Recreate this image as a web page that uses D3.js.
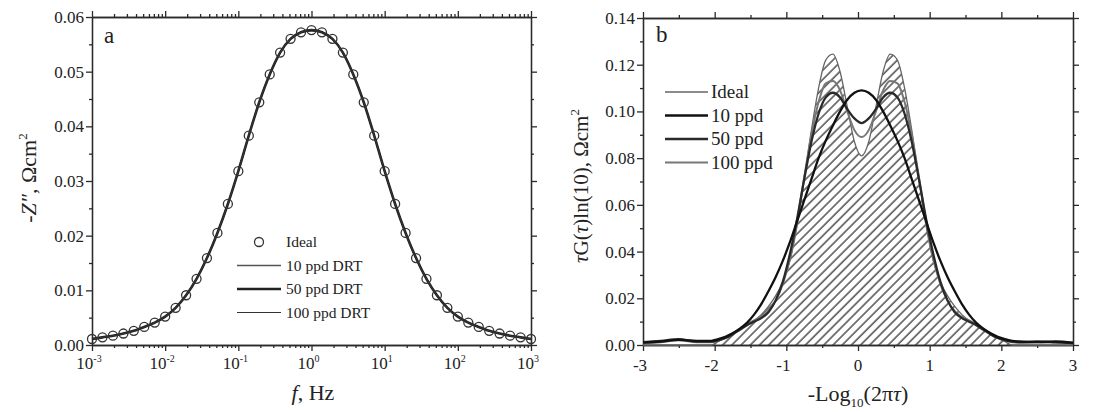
<!DOCTYPE html>
<html>
<head>
<meta charset="utf-8">
<script src="https://cdn.jsdelivr.net/npm/d3@7"></script>
<style>
  body { margin: 0; background: #fff; }
  text { font-family: "Liberation Serif", "Times New Roman", serif; fill: #222; }
</style>
</head>
<body>
<script>
// ---- panel a : -Z'' vs f ----
var logF = [-3, -2.857, -2.714, -2.571, -2.429, -2.286, -2.143, -2, -1.857, -1.714, -1.571,
    -1.429, -1.286, -1.143, -1, -0.857, -0.714, -0.571, -0.429, -0.286, -0.143, 0,
    0.143, 0.286, 0.429, 0.571, 0.714, 0.857, 1, 1.143, 1.286, 1.429, 1.571, 1.714,
    1.857, 2, 2.143, 2.286, 2.429, 2.571, 2.714, 2.857, 3];
var zIdeal = [0.0011, 0.0014, 0.0017, 0.0021, 0.0026, 0.0033, 0.0041, 0.0052, 0.0068, 0.0091, 0.0121,
    0.0159, 0.0205, 0.0258, 0.0318, 0.0383, 0.0444, 0.0495, 0.0535, 0.0560, 0.0572, 0.0576,
    0.0572, 0.0560, 0.0535, 0.0495, 0.0444, 0.0383, 0.0318, 0.0258, 0.0205, 0.0159, 0.0121, 0.0091,
    0.0068, 0.0052, 0.0041, 0.0033, 0.0026, 0.0021, 0.0017, 0.0014, 0.0011];
var z10 = [0.0011, 0.0014, 0.0017, 0.0021, 0.0026, 0.0033, 0.0041, 0.0052, 0.0068, 0.0091, 0.0121,
    0.0159, 0.0205, 0.0258, 0.0318, 0.0383, 0.0444, 0.0495, 0.0535, 0.0560, 0.0572, 0.0575,
    0.0572, 0.0560, 0.0535, 0.0495, 0.0444, 0.0383, 0.0318, 0.0258, 0.0205, 0.0159, 0.0121, 0.0091,
    0.0068, 0.0052, 0.0041, 0.0033, 0.0026, 0.0021, 0.0017, 0.0014, 0.0011];
var z50 = [0.0011, 0.0014, 0.0017, 0.0021, 0.0026, 0.0033, 0.0041, 0.0052, 0.0068, 0.0091, 0.0121,
    0.0159, 0.0205, 0.0258, 0.0318, 0.0383, 0.0444, 0.0495, 0.0535, 0.0560, 0.0572, 0.0576,
    0.0572, 0.0560, 0.0535, 0.0495, 0.0444, 0.0383, 0.0318, 0.0258, 0.0205, 0.0159, 0.0121, 0.0091,
    0.0068, 0.0052, 0.0041, 0.0033, 0.0026, 0.0021, 0.0017, 0.0014, 0.0011];
var z100 = [0.0011, 0.0014, 0.0017, 0.0021, 0.0026, 0.0033, 0.0041, 0.0052, 0.0068, 0.0091, 0.0121,
    0.0159, 0.0205, 0.0258, 0.0318, 0.0383, 0.0444, 0.0495, 0.0535, 0.0560, 0.0572, 0.0577,
    0.0572, 0.0560, 0.0535, 0.0495, 0.0444, 0.0383, 0.0318, 0.0258, 0.0205, 0.0159, 0.0121, 0.0091,
    0.0068, 0.0052, 0.0041, 0.0033, 0.0026, 0.0021, 0.0017, 0.0014, 0.0011];
var legendA = ["Ideal", "10 ppd DRT", "50 ppd DRT", "100 ppd DRT"];
var yTicksA = [0, 0.01, 0.02, 0.03, 0.04, 0.05, 0.06];
var xDecadesA = [-3, -2, -1, 0, 1, 2, 3];

// ---- panel b : DRT ----
var logT = [-3, -2.75, -2.5, -2.25, -2.05, -1.95, -1.85, -1.75, -1.65, -1.55, -1.45, -1.35, -1.25,
    -1.15, -1.05, -0.95, -0.85, -0.75, -0.65, -0.55, -0.45, -0.35, -0.25, -0.15, -0.05, 0.05,
    0.15, 0.25, 0.35, 0.45, 0.55, 0.65, 0.75, 0.85, 0.95, 1.05, 1.15, 1.25, 1.35, 1.45, 1.55,
    1.65, 1.75, 1.85, 1.95, 2.05, 2.15, 2.25, 2.5, 2.75, 3];
var gIdeal = [0, 0, 0, 0,
    0, 0.0015, 0.0032, 0.005, 0.0068, 0.0085, 0.0105, 0.013, 0.0165, 0.021, 0.027, 0.036, 0.051,
    0.071, 0.092, 0.110, 0.122, 0.1245, 0.117, 0.102, 0.087, 0.081,
    0.087, 0.102, 0.117, 0.1245, 0.122, 0.110, 0.092, 0.071, 0.051, 0.036, 0.027, 0.021, 0.0165,
    0.013, 0.0105, 0.0085, 0.0068, 0.005, 0.0032, 0.0015, 0,
    0, 0, 0, 0];
var g10 = [0.001, 0.0015, 0.0022, 0.0018,
    0.0018, 0.0025, 0.0035, 0.005, 0.007, 0.0095, 0.013, 0.0175, 0.023, 0.029, 0.036, 0.044, 0.053,
    0.062, 0.071, 0.080, 0.0875, 0.094, 0.100, 0.105, 0.108, 0.109,
    0.108, 0.105, 0.100, 0.094, 0.0875, 0.080, 0.071, 0.062, 0.053, 0.044, 0.036, 0.029, 0.023,
    0.0175, 0.013, 0.0095, 0.007, 0.005, 0.0035, 0.0025, 0.0018,
    0.0015, 0.0012, 0.0015, 0.001];
var g50 = [0.0012, 0.0018, 0.0025, 0.0015,
    0.0015, 0.002, 0.003, 0.0045, 0.0065, 0.0085, 0.010, 0.0115, 0.014, 0.019, 0.027, 0.039, 0.054,
    0.071, 0.087, 0.099, 0.106, 0.108, 0.106, 0.101, 0.097, 0.095,
    0.097, 0.101, 0.106, 0.108, 0.106, 0.099, 0.087, 0.071, 0.054, 0.039, 0.027, 0.019, 0.014,
    0.0115, 0.010, 0.0085, 0.0065, 0.0045, 0.003, 0.002, 0.0015,
    0.0012, 0.0015, 0.0012, 0.0008];
var g100 = [0.0008, 0.0012, 0.002, 0.0012,
    0.0012, 0.0018, 0.003, 0.0048, 0.0068, 0.0088, 0.0105, 0.012, 0.0145, 0.019, 0.026, 0.037, 0.053,
    0.072, 0.090, 0.104, 0.112, 0.113, 0.109, 0.100, 0.092, 0.089,
    0.092, 0.100, 0.109, 0.113, 0.112, 0.104, 0.090, 0.072, 0.053, 0.037, 0.026, 0.019, 0.0145,
    0.012, 0.0105, 0.0088, 0.0068, 0.0048, 0.003, 0.0018, 0.0012,
    0.001, 0.0012, 0.001, 0.0008];
var legendB = ["Ideal", "10 ppd", "50 ppd", "100 ppd"];
var yTicksB = [0, 0.02, 0.04, 0.06, 0.08, 0.10, 0.12, 0.14];
var xTicksB = [-3, -2, -1, 0, 1, 2, 3];

var ink = "#2a2a2a";
var svg = d3.select("body").append("svg")
    .attr("width", 1093)
    .attr("height", 412);

svg.append("rect").attr("width", 1093).attr("height", 412).attr("fill", "#fff");

// hatch for the ideal DRT area
svg.append("defs").append("pattern")
    .attr("id", "hatch")
    .attr("patternUnits", "userSpaceOnUse")
    .attr("width", 6.5)
    .attr("height", 6.5)
    .attr("patternTransform", "rotate(45)")
    .append("line")
    .attr("x1", 1).attr("y1", 0)
    .attr("x2", 1).attr("y2", 6.5)
    .attr("stroke", "#333")
    .attr("stroke-width", 1.3);

// draws the four sides with outward ticks, like the original
function frame(x, y, xMajor, xMinor, yMajor, yMinor) {
    var x0 = x.range()[0], x1 = x.range()[1],
        y0 = y.range()[0], y1 = y.range()[1];
    var sides = [
        [d3.axisBottom(x), "translate(0," + y0 + ")", xMajor, xMinor],
        [d3.axisTop(x), "translate(0," + y1 + ")", xMajor, xMinor],
        [d3.axisLeft(y), "translate(" + x0 + ",0)", yMajor, yMinor],
        [d3.axisRight(y), "translate(" + x1 + ",0)", yMajor, yMinor]
    ];
    sides.forEach(function(s) {
        var gMin = svg.append("g").attr("transform", s[1])
            .call(s[0].tickValues(s[3]).tickSize(3).tickSizeOuter(0).tickFormat(""));
        var gMaj = svg.append("g").attr("transform", s[1])
            .call(s[0].tickValues(s[2]).tickSize(6).tickSizeOuter(0).tickFormat(""));
        [gMin, gMaj].forEach(function(g) {
            g.selectAll("path, line").attr("stroke", ink).attr("stroke-width", 1.3);
        });
    });
}

// ---------- panel a ----------
var xA = d3.scaleLog().domain([1e-3, 1e3]).range([92, 531]);
var yA = d3.scaleLinear().domain([0, 0.06]).range([345, 17]);

var xMinorA = [];
xDecadesA.slice(0, -1).forEach(function(p) {
    for (var m = 2; m <= 9; m++) xMinorA.push(m * Math.pow(10, p));
});
frame(xA, yA,
    xDecadesA.map(function(p) { return Math.pow(10, p); }),
    xMinorA,
    yTicksA,
    yTicksA.slice(0, -1).map(function(v) { return v + 0.005; }));

yTicksA.forEach(function(v) {
    svg.append("text")
        .attr("x", 84).attr("y", yA(v) + 6)
        .attr("text-anchor", "end")
        .attr("font-size", 17)
        .text(d3.format(".2f")(v));
});
xDecadesA.forEach(function(p) {
    var t = svg.append("text")
        .attr("x", xA(Math.pow(10, p)) - 3).attr("y", 369)
        .attr("text-anchor", "middle")
        .attr("font-size", 17);
    t.append("tspan").text("10");
    t.append("tspan").attr("dy", -7).attr("font-size", 10).text(p);
});

var lineA = function(vals) {
    return d3.line()
        .x(function(d, i) { return xA(Math.pow(10, logF[i])); })
        .y(function(d) { return yA(d); })
        .curve(d3.curveMonotoneX)(vals);
};
svg.append("path").attr("d", lineA(z10)).attr("fill", "none")
    .attr("stroke", "#555").attr("stroke-width", 1.5);
svg.append("path").attr("d", lineA(z50)).attr("fill", "none")
    .attr("stroke", "#222").attr("stroke-width", 2.6);
svg.append("path").attr("d", lineA(z100)).attr("fill", "none")
    .attr("stroke", "#333").attr("stroke-width", 1.1);

svg.append("g").selectAll("circle")
    .data(zIdeal)
    .enter().append("circle")
    .attr("cx", function(d, i) { return xA(Math.pow(10, logF[i])); })
    .attr("cy", function(d) { return yA(d); })
    .attr("r", 4.5)
    .attr("fill", "none")
    .attr("stroke", "#333")
    .attr("stroke-width", 1.3);

// legend a
var legAStyle = [null, ["#555", 1.5], ["#222", 2.6], ["#333", 1.1]];
legendA.forEach(function(name, i) {
    var ly = 242 + i * 23.5;
    if (i === 0) {
        svg.append("circle").attr("cx", 259).attr("cy", ly).attr("r", 4.5)
            .attr("fill", "none").attr("stroke", "#333").attr("stroke-width", 1.3);
    } else {
        svg.append("line").attr("x1", 237).attr("x2", 281).attr("y1", ly).attr("y2", ly)
            .attr("stroke", legAStyle[i][0]).attr("stroke-width", legAStyle[i][1]);
    }
    svg.append("text").attr("x", 286).attr("y", ly + 5).attr("font-size", 15.5).text(name);
});

svg.append("text").attr("x", 104).attr("y", 43).attr("font-size", 23).text("a");

var ylabA = svg.append("text")
    .attr("transform", "translate(36,178) rotate(-90)")
    .attr("text-anchor", "middle")
    .attr("font-size", 22);
ylabA.append("tspan").text("-");
ylabA.append("tspan").attr("font-style", "italic").text("Z\u2033");
ylabA.append("tspan").text(", \u03A9cm");
ylabA.append("tspan").attr("dy", -9).attr("font-size", 13).text("2");

var xlabA = svg.append("text")
    .attr("x", 313).attr("y", 400)
    .attr("text-anchor", "middle")
    .attr("font-size", 22);
xlabA.append("tspan").attr("font-style", "italic").text("f");
xlabA.append("tspan").text(", Hz");

// ---------- panel b ----------
var xB = d3.scaleLinear().domain([-3, 3]).range([643, 1073]);
var yB = d3.scaleLinear().domain([0, 0.14]).range([345, 18]);

frame(xB, yB,
    xTicksB,
    xTicksB.slice(0, -1).map(function(v) { return v + 0.5; }),
    yTicksB,
    yTicksB.slice(0, -1).map(function(v) { return v + 0.01; }));

yTicksB.forEach(function(v) {
    svg.append("text")
        .attr("x", 635).attr("y", yB(v) + 6)
        .attr("text-anchor", "end")
        .attr("font-size", 17)
        .text(d3.format(".2f")(v));
});
xTicksB.forEach(function(v) {
    svg.append("text")
        .attr("x", xB(v) - (v < 0 ? 3 : 0)).attr("y", 371)
        .attr("text-anchor", "middle")
        .attr("font-size", 17)
        .text(v < 0 ? "-" + Math.abs(v) : v);
});

var xOf = function(d, i) { return xB(logT[i]); };
var areaB = d3.area()
    .x(xOf)
    .y0(yB(0))
    .y1(function(d) { return yB(d); })
    .curve(d3.curveMonotoneX);
var lineB = d3.line()
    .x(xOf)
    .y(function(d) { return yB(d); })
    .curve(d3.curveMonotoneX);

svg.append("path").attr("d", areaB(gIdeal)).attr("fill", "url(#hatch)");

var seriesB = [
    [gIdeal, "#666", 1.3],
    [g100, "#777", 2.0],
    [g50, "#2a2a2a", 2.3],
    [g10, "#111", 2.3]
];
seriesB.forEach(function(s) {
    svg.append("path").attr("d", lineB(s[0])).attr("fill", "none")
        .attr("stroke", s[1]).attr("stroke-width", s[2]);
});

// legend b
var legBStyle = [["#666", 1.5], ["#111", 2.5], ["#2a2a2a", 2.5], ["#777", 2.2]];
legendB.forEach(function(name, i) {
    var ly = 92 + i * 23.5;
    svg.append("line").attr("x1", 665).attr("x2", 708).attr("y1", ly).attr("y2", ly)
        .attr("stroke", legBStyle[i][0]).attr("stroke-width", legBStyle[i][1]);
    svg.append("text").attr("x", 711).attr("y", ly + 6).attr("font-size", 19).text(name);
});

svg.append("text").attr("x", 656).attr("y", 42).attr("font-size", 23).text("b");

var ylabB = svg.append("text")
    .attr("transform", "translate(588,186) rotate(-90)")
    .attr("text-anchor", "middle")
    .attr("font-size", 21);
ylabB.append("tspan").attr("font-style", "italic").text("\u03C4");
ylabB.append("tspan").text("G(");
ylabB.append("tspan").attr("font-style", "italic").text("\u03C4");
ylabB.append("tspan").text(")ln(10), \u03A9cm");
ylabB.append("tspan").attr("dy", -9).attr("font-size", 13).text("2");

var xlabB = svg.append("text")
    .attr("x", 858).attr("y", 401)
    .attr("text-anchor", "middle")
    .attr("font-size", 22);
xlabB.append("tspan").text("-Log");
xlabB.append("tspan").attr("dy", 6).attr("font-size", 13).text("10");
xlabB.append("tspan").attr("dy", -6).text("(2\u03C0");
xlabB.append("tspan").attr("font-style", "italic").text("\u03C4");
xlabB.append("tspan").text(")");
</script>
</body>
</html>
